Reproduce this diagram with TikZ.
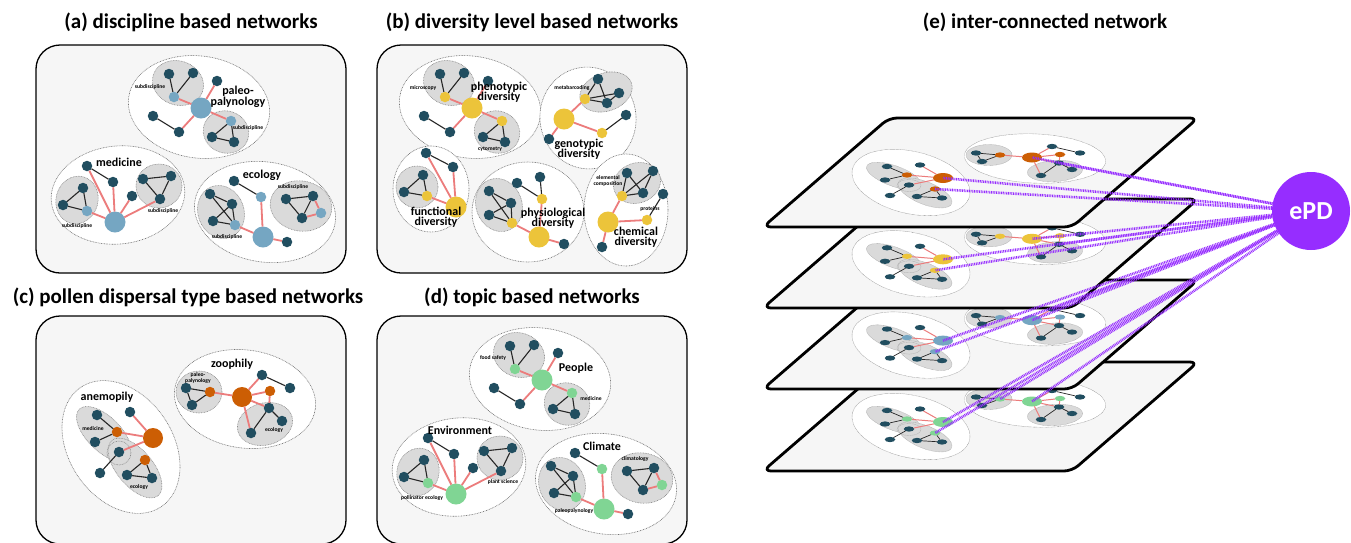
\documentclass[tikz,border=0pt]{standalone}
\usepackage{fontspec}
\setmainfont{Carlito}
\definecolor{dkC}{RGB}{33,78,96}
\definecolor{blueC}{RGB}{117,166,194}
\definecolor{yelC}{RGB}{236,196,58}
\definecolor{orC}{RGB}{204,94,4}
\definecolor{grnC}{RGB}{128,213,148}
\definecolor{redC}{RGB}{236,124,124}
\definecolor{grayC}{RGB}{218,218,218}
\definecolor{panelC}{RGB}{246,246,246}
\definecolor{purpC}{RGB}{150,45,255}
\tikzset{
 dk/.style={circle, fill=dkC, minimum size=10.5pt, inner sep=0pt, outer sep=0pt},
 sm/.style={circle, fill=#1, minimum size=10.5pt, inner sep=0pt, outer sep=0pt},
 bg/.style={circle, fill=#1, minimum size=21pt, inner sep=0pt, outer sep=0pt},
 rE/.style={draw=redC, line width=1.8pt},
 kE/.style={draw=black!85, line width=1.1pt},
 outerell/.style={draw=black!55, dash pattern=on 0.8pt off 0.8pt, line width=0.6pt, fill=white},
 subell/.style={draw=black!45, dash pattern=on 0.8pt off 0.8pt, line width=0.6pt, fill=grayC},
 panelbox/.style={draw=black, line width=1.3pt, fill=panelC, rounded corners=24pt},
 layerbox/.style={draw=black, line width=2.8pt, fill=panelC, rounded corners=8pt, line join=round},
 ttl/.style={font=\fontsize{21}{23}\selectfont\bfseries, inner sep=0pt},
 clab/.style={font=\fontsize{12}{10.5}\selectfont\bfseries, align=center, inner sep=0pt},
 tlab/.style={font=\fontsize{5.6}{5.8}\selectfont\bfseries, align=center, inner sep=0pt},
 epd/.style={draw=purpC, line width=2.6pt, dash pattern=on 0.9pt off 0.8pt},
 laysty/.style={every node/.append style={transform shape},
   rE/.style={draw=redC, line width=1pt},
   kE/.style={draw=black!85, line width=0.7pt},
   outerell/.style={draw=black!45, dash pattern=on 0.6pt off 0.6pt, line width=0.4pt, fill=white},
   subell/.style={draw=black!35, dash pattern=on 0.6pt off 0.6pt, line width=0.4pt, fill=grayC}}
}
\newcommand\netPaleo[1]{%
 \draw[outerell, rotate around={-8:(199,107)}] (199,107) ellipse (71pt and 51pt);
 \draw[subell, rotate around={-20:(178,83)}] (178,83) ellipse (26pt and 22pt);
 \draw[subell, rotate around={-20:(226,132)}] (226,132) ellipse (23pt and 21pt);
 \node[dk] (P1) at (169,74) {};
 \node[dk] (P2) at (193,73) {};
 \node[sm=#1] (P3) at (174,97) {};
 \node[bg=#1] (P0) at (201,108) {};
 \node[dk] (P4) at (217,81) {};
 \node[dk] (P5) at (153,116) {};
 \node[dk] (P6) at (179,132) {};
 \node[sm=#1] (P7) at (231,121) {};
 \node[dk] (P8) at (212,137) {};
 \node[dk] (P9) at (234,142) {};
 \draw[kE] (P1)--(P3) (P2)--(P3) (P5)--(P6) (P7)--(P8) (P8)--(P9) (P7)--(P9);
 \draw[rE] (P3)--(P0) (P0)--(P4) (P0)--(P6) (P0)--(P7);
}
\newcommand\netMed[1]{%
 \draw[outerell, rotate around={6:(118,195)}] (118,195) ellipse (67pt and 49pt);
 \draw[subell, rotate around={-15:(77,200)}] (77,200) ellipse (21pt and 24pt);
 \draw[subell] (159,186) ellipse (23pt and 22pt);
 \node[dk] (M1) at (83,188) {};
 \node[dk] (M2) at (63,205) {};
 \node[sm=#1] (M3) at (87,211) {};
 \node[bg=#1] (M0) at (115,222) {};
 \node[dk] (M4) at (87,166) {};
 \node[dk] (M5) at (113,182) {};
 \node[dk] (M6) at (132,196) {};
 \node[dk] (M7) at (143,179) {};
 \node[dk] (M8) at (171,176) {};
 \node[dk] (M9) at (160,199) {};
 \draw[kE] (M1)--(M3) (M2)--(M3) (M1)--(M2) (M4)--(M5) (M7)--(M8) (M8)--(M9) (M7)--(M9);
 \draw[rE] (M4)--(M0) (M5)--(M0) (M6)--(M0) (M9)--(M0) (M3)--(M0);
}
\newcommand\netEco[1]{%
 \draw[outerell, rotate around={-9:(265,212)}] (265,212) ellipse (71pt and 50pt);
 \draw[subell, rotate around={20:(221,212)}] (221,212) ellipse (23pt and 27pt);
 \draw[subell, rotate around={-10:(301,206)}] (301,206) ellipse (31pt and 25pt);
 \node[dk] (E1) at (210,194) {};
 \node[dk] (E2) at (232,204) {};
 \node[dk] (E3) at (213,221) {};
 \node[sm=#1] (E4) at (235,225) {};
 \node[bg=#1] (E0) at (263,237) {};
 \node[sm=#1] (E5) at (261,197) {};
 \node[dk] (E6) at (234,181) {};
 \node[dk] (E7) at (287,242) {};
 \node[dk] (E8) at (286,199) {};
 \node[dk] (E9) at (313,196) {};
 \node[dk] (E10) at (302,218) {};
 \node[sm=#1] (E11) at (321,213) {};
 \draw[kE] (E1)--(E2) (E1)--(E4) (E2)--(E3) (E3)--(E4) (E2)--(E4) (E6)--(E5) (E8)--(E9) (E8)--(E10) (E9)--(E10);
 \draw[rE] (E5)--(E0) (E4)--(E0) (E0)--(E7) (E9)--(E11) (E10)--(E11);
}
\newcommand\netAnem[1]{%
 \draw[outerell, rotate around={-56:(121,447)}] (121,447) ellipse (72pt and 52pt);
 \draw[subell, rotate around={-45:(104,434)}] (104,434) ellipse (35pt and 17pt);
 \draw[subell, rotate around={-50:(135,468)}] (135,468) ellipse (36pt and 18pt);
 \draw[subell, fill=none] (119,453) circle (12pt);
 \node[dk] (A1) at (97,415) {};
 \node[dk] (A2) at (95,442) {};
 \node[sm=#1] (A3) at (117,432) {};
 \node[dk] (A4) at (130,412) {};
 \node[bg=#1, minimum size=20pt] (A0) at (153,438) {};
 \node[dk] (A5) at (119,452) {};
 \node[dk] (A6) at (100,473) {};
 \node[sm=#1] (A7) at (145,460) {};
 \node[dk] (A8) at (127,475) {};
 \node[dk] (A9) at (152,478) {};
 \draw[kE] (A1)--(A3) (A2)--(A3) (A5)--(A6) (A7)--(A8) (A8)--(A9) (A7)--(A9);
 \draw[rE] (A3)--(A0) (A4)--(A0) (A5)--(A0);
}
\newcommand\netZoo[1]{%
 \draw[outerell, rotate around={-8:(245,399)}] (245,399) ellipse (71pt and 49pt);
 \draw[subell] (199,392) ellipse (23pt and 21pt);
 \draw[subell, rotate around={15:(265,424)}] (265,424) ellipse (28pt and 21pt);
 \node[dk] (Z1) at (186,388) {};
 \node[sm=#1] (Z2) at (210,392) {};
 \node[dk] (Z3) at (192,405) {};
 \node[bg=#1, minimum size=20pt] (Z0) at (242,397) {};
 \node[dk] (Z4) at (262,375) {};
 \node[dk] (Z5) at (290,388) {};
 \node[sm=#1] (Z6) at (270,391) {};
 \node[dk] (Z7) at (269,408) {};
 \node[dk] (Z8) at (282,421) {};
 \node[dk] (Z9) at (251,433) {};
 \draw[kE] (Z1)--(Z2) (Z1)--(Z3) (Z2)--(Z3) (Z4)--(Z5) (Z7)--(Z8) (Z7)--(Z9);
 \draw[rE] (Z2)--(Z0) (Z0)--(Z4) (Z0)--(Z6) (Z0)--(Z7) (Z6)--(Z7) (Z0)--(Z9);
}
\begin{document}
\begin{tikzpicture}[x=1pt,y=-1pt]
\useasboundingbox (0,0) rectangle (1351,542);
% ---------- titles
\node[ttl] (ta) at (191,22) {(a) discipline based networks};
\node[ttl] (tb) at (532,22) {(b) diversity level based networks};
\node[ttl] (tc) at (188,297) {(c) pollen dispersal type based networks};
\node[ttl] (td) at (532,297) {(d) topic based networks};
\node[ttl] (te) at (1045,22) {(e) inter-connected network};
% ---------- panel (a)
\draw[panelbox] (36,45) rectangle (346,273);
\begin{scope}[name prefix=a-]
 \netPaleo{blueC}\netMed{blueC}\netEco{blueC}
\end{scope}
\node[clab] (la1) at (238,97) {paleo-\\palynology};
\node[clab] (la2) at (119,162) {medicine};
\node[clab] (la3) at (262,175) {ecology};
\node[tlab] (la4) at (150,87) {subdiscipline};
\node[tlab] (la5) at (248,128) {subdiscipline};
\node[tlab] (la6) at (77,226) {subdiscipline};
\node[tlab] (la7) at (163,211) {subdiscipline};
\node[tlab] (la8) at (227,237) {subdiscipline};
\node[tlab] (la9) at (293,187) {subdiscipline};
% ---------- panel (b)
\draw[panelbox] (377,45) rectangle (687,273);
\begin{scope}[name prefix=b-, shift={(271,0)}]
 \netPaleo{yelC}
\end{scope}
\begin{scope}[name prefix=b-]
 % genotypic
 \draw[outerell, rotate around={10:(588,118)}] (588,118) ellipse (48pt and 51pt);
 \draw[subell, rotate around={20:(606,92)}] (606,92) ellipse (27pt and 19pt);
 \node[dk] (G1) at (598,79) {};
 \node[dk] (G2) at (619,93) {};
 \node[sm=yelC] (G3) at (585,99) {};
 \node[dk] (G4) at (607,103) {};
 \node[bg=yelC] (G0) at (564,119) {};
 \node[sm=yelC] (G5) at (602,133) {};
 \node[dk] (G6) at (626,115) {};
 \node[dk] (G7) at (549,139) {};
 \draw[kE] (G1)--(G3) (G1)--(G4) (G3)--(G2) (G3)--(G4) (G4)--(G2) (G5)--(G6);
 \draw[rE] (G3)--(G0) (G0)--(G5) (G0)--(G7);
 % functional
 \draw[outerell] (431,189) ellipse (38pt and 43pt);
 \draw[subell] (417,187) ellipse (21pt and 21pt);
 \node[dk] (F1) at (423,175) {};
 \node[dk] (F2) at (404,192) {};
 \node[sm=yelC] (F3) at (427,196) {};
 \node[dk] (F4) at (426,153) {};
 \node[dk] (F5) at (453,167) {};
 \node[bg=yelC] (F0) at (456,207) {};
 \draw[kE] (F1)--(F2) (F2)--(F3) (F1)--(F3) (F4)--(F5);
 \draw[rE] (F3)--(F0) (F4)--(F0) (F5)--(F0);
 % physiological
 \draw[outerell] (528,212) ellipse (56pt and 50pt);
 \draw[subell, rotate around={20:(499,205)}] (499,205) ellipse (23pt and 27pt);
 \node[dk] (H1) at (489,191) {};
 \node[dk] (H2) at (511,203) {};
 \node[dk] (H3) at (489,215) {};
 \node[sm=yelC] (H4) at (512,223) {};
 \node[bg=yelC] (H0) at (539,237) {};
 \node[sm=yelC] (H5) at (542,199) {};
 \node[dk] (H6) at (517,183) {};
 \node[dk] (H7) at (540,177) {};
 \node[dk] (H8) at (564,244) {};
 \draw[kE] (H1)--(H2) (H1)--(H4) (H2)--(H3) (H3)--(H4) (H2)--(H4) (H6)--(H5) (H7)--(H5);
 \draw[rE] (H4)--(H0) (H5)--(H0) (H0)--(H8);
 % chemical
 \draw[outerell] (626,210) ellipse (42pt and 56pt);
 \draw[subell, rotate around={20:(637,183)}] (637,183) ellipse (24pt and 20pt);
 \node[dk] (C1) at (627,173) {};
 \node[dk] (C2) at (653,171) {};
 \node[sm=yelC] (C3) at (622,196) {};
 \node[dk] (C4) at (643,193) {};
 \node[dk] (C5) at (663,194) {};
 \node[bg=yelC] (C0) at (608,222) {};
 \node[sm=yelC] (C6) at (647,220) {};
 \node[dk] (C7) at (602,247) {};
 \draw[kE] (C1)--(C3) (C1)--(C4) (C2)--(C3) (C2)--(C4) (C3)--(C4) (C6)--(C5);
 \draw[rE] (C3)--(C0) (C0)--(C6) (C0)--(C7);
\end{scope}
\node[clab] (lb1) at (499,92) {phenotypic\\diversity};
\node[clab] (lb2) at (579,149) {genotypic\\diversity};
\node[clab] (lb3) at (436,217) {functional\\diversity};
\node[clab] (lb4) at (553,218) {physiological\\diversity};
\node[clab] (lb5) at (636,237) {chemical\\diversity};
\node[tlab] (lb6) at (423,88) {microscopy};
\node[tlab] (lb7) at (490,149) {cytometry};
\node[tlab] (lb8) at (572,88) {metabarcoding};
\node[tlab] (lb9) at (608,181) {elemental\\composition};
\node[tlab] (lb10) at (650,209) {proteins};
% ---------- panel (c)
\draw[panelbox] (36,316) rectangle (346,544);
\begin{scope}[name prefix=c-]
 \netAnem{orC}\netZoo{orC}
\end{scope}
\node[clab] (lc1) at (107,397) {anemopily};
\node[clab] (lc2) at (232,364) {zoophily};
\node[tlab] (lc3) at (93,429) {medicine};
\node[tlab] (lc4) at (139,487) {ecology};
\node[tlab] (lc5) at (198,378) {paleo-\\palynology};
\node[tlab] (lc6) at (274,430) {ecology};
% ---------- panel (d)
\draw[panelbox] (377,316) rectangle (687,544);
\begin{scope}[name prefix=d-, shift={(341,272)}]
 \netPaleo{grnC}\netMed{grnC}\netEco{grnC}
\end{scope}
\node[clab] (ld1) at (576,368) {People};
\node[clab] (ld2) at (460,430) {Environment};
\node[clab] (ld3) at (602,446) {Climate};
\node[tlab] (ld4) at (493,358) {food safety};
\node[tlab] (ld5) at (591,399) {medicine};
\node[tlab] (ld6) at (422,498) {pollinator ecology};
\node[tlab] (ld7) at (503,482) {plant science};
\node[tlab] (ld8) at (635,459) {climatology};
\node[tlab] (ld9) at (574,511) {paleopalynology};
% ---------- panel (e)
\draw[layerbox] (889,362) -- (1198,362) -- (1072,471) -- (763,471) -- cycle;
\begin{scope}[name prefix=L4-, shift={(790,203)}, yscale=0.5, laysty]
 \netAnem{grnC}\netZoo{grnC}
\end{scope}
\draw[layerbox] (889,280) -- (1198,280) -- (1072,389) -- (763,389) -- cycle;
\begin{scope}[name prefix=L3-, shift={(790,121.6)}, yscale=0.5, laysty]
 \netAnem{blueC}\netZoo{blueC}
\end{scope}
\draw[layerbox] (889,199) -- (1198,199) -- (1072,308) -- (763,308) -- cycle;
\begin{scope}[name prefix=L2-, shift={(790,40.3)}, yscale=0.5, laysty]
 \netAnem{yelC}\netZoo{yelC}
\end{scope}
\draw[layerbox] (889,118) -- (1198,118) -- (1072,227) -- (763,227) -- cycle;
\begin{scope}[name prefix=L1-, shift={(790,-41)}, yscale=0.5, laysty]
 \netAnem{orC}\netZoo{orC}
\end{scope}
\node[circle, fill=purpC, minimum size=78pt, inner sep=0pt, text=white,
  font=\fontsize{26}{26}\selectfont\bfseries] (ePD) at (1311,211) {ePD};
\foreach \k/\z in {1/Z7,2/Z7,3/Z4,4/Z2}{
 \draw[epd] (ePD) -- (L\k-A0.center);
 \draw[epd] (ePD) -- (L\k-A7.center);
 \draw[epd] (ePD) -- (L\k-Z0.center);
 \draw[epd] (ePD) -- (L\k-\z.center);
}
\end{tikzpicture}
\end{document}
